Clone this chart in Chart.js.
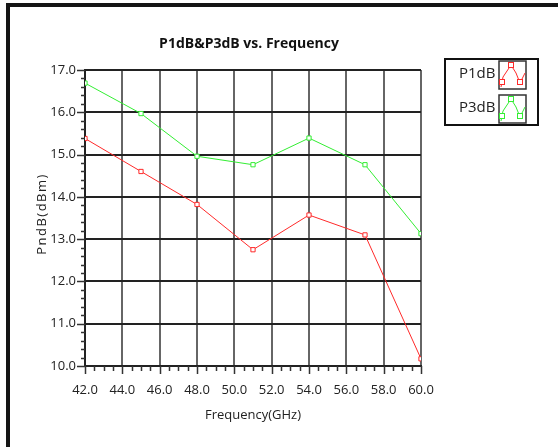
<!DOCTYPE html>
<html>
<head>
<meta charset="utf-8">
<script src="https://cdn.jsdelivr.net/npm/chart.js@4.4.1/dist/chart.umd.min.js"></script>
<style>
html,body{margin:0;padding:0;background:#fff;}
canvas{display:block;}
</style>
</head>
<body>
<canvas id="c" width="558" height="447"></canvas>
<script>
const chartTitle = "P1dB&P3dB vs. Frequency";
const xTitle = "Frequency(GHz)";
const yTitle = "PndB(dBm)";
const frequencies = [42, 45, 48, 51, 54, 57, 60];
const p1dB = [15.38, 14.60, 13.82, 12.75, 13.57, 13.10, 10.17];
const p3dB = [16.69, 15.97, 14.96, 14.76, 15.39, 14.76, 13.13];
const seriesNames = ["P1dB", "P3dB"];
const xMin = 42, xMax = 60, xStep = 2, xMinorStep = 0.5;
const yMin = 10, yMax = 17, yStep = 1, yMinorStep = 0.2;

const RED = "#ff2a2a", GREEN = "#33ee33";
const tickFont = {family: "'Open Sans', sans-serif", size: 13};

const decor = {
  id: "decor",
  beforeDraw(chart) {
    const ctx = chart.ctx;
    ctx.save();
    ctx.fillStyle = "#fff";
    ctx.fillRect(0, 0, chart.width, chart.height);
    ctx.restore();
  },
  afterDraw(chart) {
    const ctx = chart.ctx;
    const xs = chart.scales.x, ys = chart.scales.y;
    const a = chart.chartArea;
    ctx.save();
    // outer frame
    ctx.fillStyle = "#151515";
    ctx.fillRect(6, 3, 4, chart.height - 3);
    ctx.fillRect(6, 3, chart.width - 6, 4);
    // tick marks
    ctx.strokeStyle = "#333";
    ctx.lineWidth = 1.5;
    ctx.beginPath();
    for (let v = yMin; v <= yMax + 1e-9; v += yMinorStep) {
      const p = Math.round(ys.getPixelForValue(v)) + 0.5;
      const major = Math.abs(v - Math.round(v)) < 1e-6;
      ctx.moveTo(a.left - (major ? 8 : 4), p);
      ctx.lineTo(a.left, p);
    }
    for (let v = xMin; v <= xMax + 1e-9; v += xMinorStep) {
      const p = Math.round(xs.getPixelForValue(v)) + 0.5;
      const major = Math.abs((v - xMin) / xStep - Math.round((v - xMin) / xStep)) < 1e-6;
      ctx.moveTo(p, a.bottom);
      ctx.lineTo(p, a.bottom + (major ? 8 : 5));
    }
    ctx.stroke();
    // title
    ctx.fillStyle = "#111";
    ctx.textAlign = "center";
    ctx.textBaseline = "middle";
    ctx.font = "bold 14px 'Open Sans', sans-serif";
    ctx.fillText(chartTitle, 249, 44);
    // x title
    ctx.fillStyle = "#222";
    ctx.font = "13px 'Open Sans', sans-serif";
    ctx.fillText(xTitle, (a.left + a.right) / 2, 415);
    // y title
    ctx.save();
    ctx.translate(42, (a.top + a.bottom) / 2 - 4);
    ctx.rotate(-Math.PI / 2);
    ctx.letterSpacing = "1.5px";
    ctx.fillText(yTitle, 0, 0);
    ctx.restore();
    // legend
    const lx = 445, ly = 59, lw = 93, lh = 66;
    ctx.strokeStyle = "#111";
    ctx.lineWidth = 2;
    ctx.strokeRect(lx, ly, lw, lh);
    const colors = [RED, GREEN];
    for (let i = 0; i < 2; i++) {
      const by = 61 + i * 34, bx = 499, bw = 27, bh = 28;
      ctx.fillStyle = "#222";
      ctx.font = "15px 'Open Sans', sans-serif";
      ctx.textAlign = "left";
      ctx.fillText(chart.data.datasets[i].label, 459, by + 13);
      ctx.strokeStyle = "#333";
      ctx.lineWidth = 1.5;
      ctx.strokeRect(bx, by, bw, bh);
      const pts = [[2, 26], [4, 16], [12, 4], [17, 12], [21, 22], [26, 12]];
      ctx.strokeStyle = colors[i];
      ctx.lineWidth = 1;
      ctx.beginPath();
      pts.forEach((p, k) => k ? ctx.lineTo(bx + p[0], by + p[1]) : ctx.moveTo(bx + p[0], by + p[1]));
      ctx.stroke();
      [[3, 21], [12, 4], [21, 21]].forEach(p => {
        ctx.fillStyle = "#fff";
        ctx.fillRect(bx + p[0] - 2.5, by + p[1] - 2.5, 5, 5);
        ctx.strokeRect(bx + p[0] - 2.5, by + p[1] - 2.5, 5, 5);
      });
    }
    ctx.restore();
  }
};

new Chart(document.getElementById("c"), {
  type: "line",
  data: {
    datasets: [
      {label: seriesNames[0], data: frequencies.map((f, i) => ({x: f, y: p1dB[i]})),
       borderColor: RED, backgroundColor: "#fff", borderWidth: 1,
       pointStyle: "rect", pointRadius: 3, pointBorderWidth: 1, pointBorderColor: RED, pointBackgroundColor: "#fff"},
      {label: seriesNames[1], data: frequencies.map((f, i) => ({x: f, y: p3dB[i]})),
       borderColor: GREEN, backgroundColor: "#fff", borderWidth: 1,
       pointStyle: "rect", pointRadius: 3, pointBorderWidth: 1, pointBorderColor: GREEN, pointBackgroundColor: "#fff"}
    ]
  },
  options: {
    responsive: false,
    animation: false,
    events: [],
    layout: {padding: {left: 0, top: 70, right: 137, bottom: 0}},
    plugins: {legend: {display: false}, title: {display: false}, tooltip: {enabled: false}},
    scales: {
      x: {
        type: "linear", min: xMin, max: xMax,
        ticks: {stepSize: xStep, callback: v => Number(v).toFixed(1), font: tickFont, color: "#222", padding: 16, maxRotation: 0},
        grid: {color: "#666", lineWidth: 2, drawTicks: false},
        border: {display: true, color: "#222", width: 2},
        afterFit: s => { s.height = 81; }
      },
      y: {
        type: "linear", min: yMin, max: yMax,
        ticks: {stepSize: yStep, callback: v => Number(v).toFixed(1), font: tickFont, color: "#222", padding: 9},
        grid: {color: "#222", lineWidth: 2, drawTicks: false},
        border: {display: true, color: "#222", width: 2},
        afterFit: s => { s.width = 85; }
      }
    }
  },
  plugins: [decor]
});
</script>
</body>
</html>
